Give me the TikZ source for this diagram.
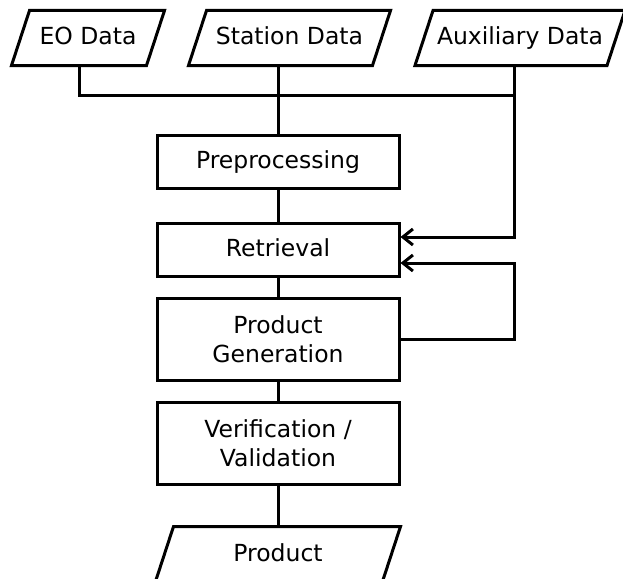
\documentclass[tikz,border=0pt]{standalone}
\usepackage{fontspec}
\setmainfont{DejaVu Sans}
\usetikzlibrary{arrows.meta}
\newcommand\drawpara[1]{\draw ([xshift=18pt]#1.north west) -- (#1.north east) -- ([xshift=-18pt]#1.south east) -- (#1.south west) -- cycle;}
\begin{document}
\begin{tikzpicture}[x=1pt,y=-1pt,line width=3pt,
  every node/.style={font=\fontsize{23.5}{29}\selectfont,align=center,inner sep=0pt},
  oneline/.style={text height=19.6pt,text depth=5.6pt},
  procbox/.style={draw,rectangle,minimum width=242pt},
  iobox/.style={rectangle,minimum height=52pt,oneline},
  flow/.style={-{Straight Barb[length=10pt,width=16pt]}}
]
\useasboundingbox (0,0) rectangle (623,578);
% inputs
\node[iobox,minimum width=150pt] (eo) at (88,38) {EO Data};
\node[iobox,minimum width=199pt] (station) at (289.5,38) {Station Data};
\node[iobox,minimum width=207pt] (aux) at (520,38) {Auxiliary Data};
\drawpara{eo}
\drawpara{station}
\drawpara{aux}
% process
\node[procbox,oneline,minimum height=53pt] (prep) at (278,161.5) {Preprocessing};
\node[procbox,oneline,minimum height=53pt] (ret) at (278,249.5) {Retrieval};
\node[procbox,minimum height=82pt] (gen) at (278,339) {Product\\Generation};
\node[procbox,minimum height=82pt] (ver) at (278,443) {Verification /\\Validation};
\node[iobox,minimum width=242pt] (prod) at (278,554) {Product};
\drawpara{prod}
% junction and attachment points
\coordinate (j) at (278,95);
\coordinate (eoout) at ([xshift=-9pt]eo.south);
\coordinate (auxout) at ([xshift=-6pt]aux.south);
% connectors
\draw (eoout) |- (j) -| (auxout);
\draw (prep.north |- station.south) -- (prep.north);
\draw[flow] (auxout) |- ([yshift=12.5pt]ret.east);
\draw (prep.south) -- (ret.north);
\draw (ret.south) -- (gen.north);
\draw (gen.south) -- (ver.north);
\draw (ver.south) -- (prod.north);
\draw[flow] (gen.east) -- (gen.east -| auxout) |- ([yshift=-13.5pt]ret.east);
\end{tikzpicture}
\end{document}
